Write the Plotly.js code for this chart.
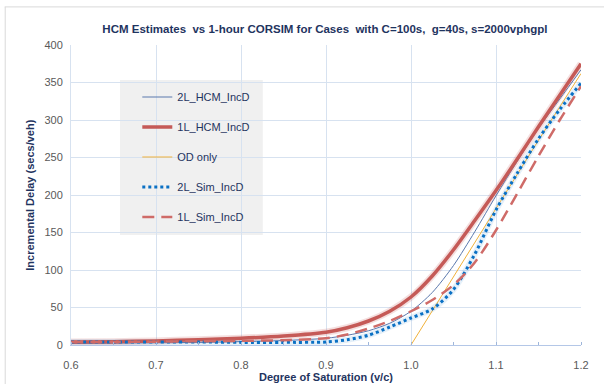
<!DOCTYPE html>
<html>
<head>
<meta charset="utf-8">
<script src="https://cdn.plot.ly/plotly-3.0.1.min.js"></script>
<style>html,body{margin:0;padding:0;background:#fff;}#chart{width:604px;height:384px;}</style>
</head>
<body>
<div id="chart"></div>
<script>
// Data
const vc    = [0.6,0.65,0.7,0.75,0.8,0.85,0.9,0.925,0.95,0.975,1.0,1.025,1.05,1.075,1.1,1.125,1.15,1.175,1.2];
const hcm2L = [2,2.5,3,3.5,4.5,6,9,13,19,29,45,70,106,151,199,245,289,328,367];
const hcm1L = [4,4.5,5.5,7,9,12,17,23,32,45,64,92,127,166,206,248,291,333,375];
const sim2L = [4,4,4,4,3.5,3.5,4,7,13,24,36,48,74,121,180,229,275,314,349];
const sim1L = [4,4,4.5,5,5.5,6.5,9,14,22,32,45,60,80,110,153,202,252,300,345];
const vcOD   = [1.0,1.05,1.1,1.15,1.2];
const odOnly = [0,91,182,273,362];
const names = ['2L_HCM_IncD','1L_HCM_IncD','OD only','2L_Sim_IncD','1L_Sim_IncD'];
const xTicks = [0.6,0.7,0.8,0.9,1.0,1.1,1.2];
const xTickText = ['0.6','0.7','0.8','0.9','1.0','1.1','1.2'];

const sp = {shape:'spline', smoothing:0.8};
const traces = [
  {x:vc, y:hcm1L, mode:'lines', showlegend:false, hoverinfo:'skip',
   line:Object.assign({color:'rgba(192,80,77,0.18)', width:7}, sp)},
  {x:vc, y:sim2L, mode:'lines', showlegend:false, hoverinfo:'skip',
   line:Object.assign({color:'rgba(0,112,192,0.10)', width:6}, sp)},
  {x:vc, y:hcm2L, name:names[0], mode:'lines', legendgroup:'a',
   line:Object.assign({color:'#5a78ad', width:1}, sp)},
  {x:vc, y:hcm1L, name:names[1], mode:'lines', legendgroup:'b',
   line:Object.assign({color:'#c55a57', width:3.5}, sp)},
  {x:vcOD, y:odOnly, name:names[2], mode:'lines', legendgroup:'c',
   line:{color:'#f0b13a', width:1}},
  {x:vc, y:sim2L, name:names[3], mode:'lines', legendgroup:'d',
   line:Object.assign({color:'#0a70c4', width:3, dash:'3px,3px'}, sp)},
  {x:vc, y:sim1L, name:names[4], mode:'lines', legendgroup:'e',
   line:Object.assign({color:'#cf6b68', width:2.5, dash:'12px,7px'}, sp)}
];

const gridC = '#d7e2f0';
const navy = '#1f3460';
const layout = {
  width:604, height:384,
  margin:{l:71, r:23, t:45, b:39},
  paper_bgcolor:'#ffffff', plot_bgcolor:'#ffffff',
  font:{family:'Liberation Sans, Arial, sans-serif', size:11, color:'#595959'},
  title:{text:'<b>HCM Estimates  vs 1-hour CORSIM for Cases  with C=100s,  g=40s, s=2000vphgpl</b>',
         x:0.538, xanchor:'center', y:0.925, yanchor:'middle',
         font:{size:11.5, color:navy, family:'Liberation Sans, Arial, sans-serif'}},
  xaxis:{range:[0.6,1.2], tickvals:xTicks, ticktext:xTickText, showgrid:true, gridcolor:gridC, gridwidth:1,
         zeroline:false, showline:true, linecolor:'#b4c7e7', linewidth:1, ticks:'', ticklabelstandoff:10,
         minor:{dtick:0.05, tick0:0.6, ticks:'inside', ticklen:3, tickcolor:'#9fb6da', showgrid:false},
         tickfont:{size:11, color:'#595959'},
         title:{text:'<b>Degree of Saturation (v/c)</b>', standoff:3, font:{size:11, color:navy}}},
  yaxis:{range:[0,400], dtick:50, showgrid:true, gridcolor:gridC, gridwidth:1, zeroline:false,
         showline:true, linecolor:'#d7e2f0', linewidth:1, ticks:'', ticklabelstandoff:5,
         tickfont:{size:11, color:'#595959'}},
  annotations:[
    {text:'<b>Incremental Delay (secs/veh)</b>', textangle:-90, xref:'paper', yref:'paper',
     x:-0.081, y:0.5, xanchor:'center', yanchor:'middle', showarrow:false,
     font:{size:11, color:navy, family:'Liberation Sans, Arial, sans-serif'}}
  ],
  legend:{x:0.13, xanchor:'left', y:0.875, yanchor:'top', bgcolor:'rgba(0,0,0,0)', borderwidth:0,
          tracegroupgap:11, traceorder:'grouped',
          font:{size:11, color:navy, family:'Liberation Sans, Arial, sans-serif'}},
  shapes:[
    {type:'rect', xref:'paper', yref:'paper', x0:0.096, x1:0.376, y0:0.367, y1:0.883,
     fillcolor:'#f0f0f0', line:{width:0}, layer:'below'},
    {type:'line', xref:'paper', yref:'paper', x0:-0.13, x1:1.1, y0:1.127, y1:1.127,
     line:{color:'#d9d9d9', width:1}},
    {type:'line', xref:'paper', yref:'paper', x0:-0.129, x1:-0.129, y0:1.127, y1:-0.2,
     line:{color:'#d9d9d9', width:1}}
  ]
};
Plotly.newPlot('chart', traces, layout, {displayModeBar:false, staticPlot:true});
</script>
</body>
</html>
